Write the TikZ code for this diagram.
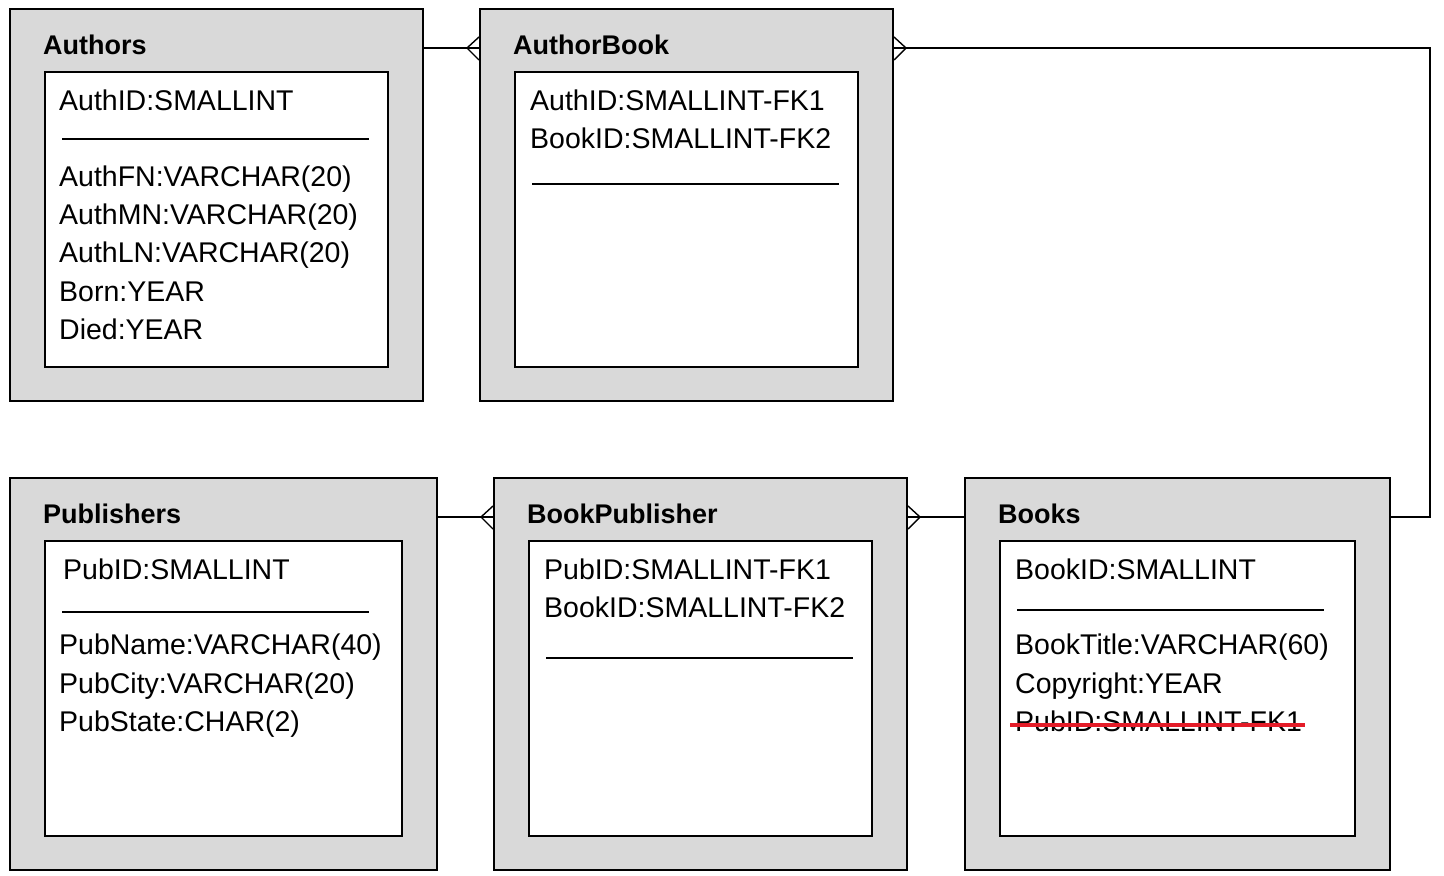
\documentclass[tikz,border=0pt]{standalone}
\usepackage{fontspec}
\setmainfont{Liberation Sans}
\definecolor{boxgray}{RGB}{217,217,217}
\definecolor{strike}{RGB}{228,28,40}
\begin{document}
\begin{tikzpicture}[x=1pt,y=-1pt,
  outerbox/.style={draw=black,line width=2pt,fill=boxgray,anchor=north west,inner sep=0pt},
  innerbox/.style={draw=black,line width=2pt,fill=white,anchor=north west,inner sep=0pt},
  ttl/.style={anchor=base west,inner sep=0pt,font=\fontsize{27}{30}\selectfont\bfseries},
  fld/.style={anchor=base west,inner sep=0pt,font=\fontsize{28.5}{34}\selectfont},
  sepline/.style={line width=1.4pt},
  conn/.style={line width=1.4pt},
  crow/.style={line width=1.4pt}]
\useasboundingbox (0,0) rectangle (1444,876);

% ---------- Authors ----------
\node[outerbox,minimum width=413pt,minimum height=392pt] (authors) at (9,8) {};
\node[innerbox,minimum width=343pt,minimum height=295pt] (authorsin) at (44,71) {};
\node[ttl] (t1) at (43,54) {Authors};
\node[fld] (a1) at (59,110) {AuthID:SMALLINT};
\draw[sepline] (62,139) -- (369,139);
\node[fld] (a2) at (59,186) {AuthFN:VARCHAR(20)};
\node[fld] (a3) at (59,224) {AuthMN:VARCHAR(20)};
\node[fld] (a4) at (59,262) {AuthLN:VARCHAR(20)};
\node[fld] (a5) at (59,301) {Born:YEAR};
\node[fld] (a6) at (59,339) {Died:YEAR};

% ---------- AuthorBook ----------
\node[outerbox,minimum width=413pt,minimum height=392pt] (authorbook) at (479,8) {};
\node[innerbox,minimum width=343pt,minimum height=295pt] (authorbookin) at (514,71) {};
\node[ttl] (t2) at (513,54) {AuthorBook};
\node[fld] (b1) at (530,110) {AuthID:SMALLINT-FK1};
\node[fld] (b2) at (530,148) {BookID:SMALLINT-FK2};
\draw[sepline] (532,184) -- (839,184);

% ---------- Publishers ----------
\node[outerbox,minimum width=427pt,minimum height=392pt] (publishers) at (9,477) {};
\node[innerbox,minimum width=357pt,minimum height=295pt] (publishersin) at (44,540) {};
\node[ttl] (t3) at (43,523) {Publishers};
\node[fld] (p1) at (63,579) {PubID:SMALLINT};
\draw[sepline] (62,612) -- (369,612);
\node[fld] (p2) at (59,654) {PubName:VARCHAR(40)};
\node[fld] (p3) at (59,693) {PubCity:VARCHAR(20)};
\node[fld] (p4) at (59,731) {PubState:CHAR(2)};

% ---------- BookPublisher ----------
\node[outerbox,minimum width=413pt,minimum height=392pt] (bookpub) at (493,477) {};
\node[innerbox,minimum width=343pt,minimum height=295pt] (bookpubin) at (528,540) {};
\node[ttl] (t4) at (527,523) {BookPublisher};
\node[fld] (q1) at (544,579) {PubID:SMALLINT-FK1};
\node[fld] (q2) at (544,617) {BookID:SMALLINT-FK2};
\draw[sepline] (546,658) -- (853,658);

% ---------- Books ----------
\node[outerbox,minimum width=425pt,minimum height=392pt] (books) at (964,477) {};
\node[innerbox,minimum width=355pt,minimum height=295pt] (booksin) at (999,540) {};
\node[ttl] (t5) at (998,523) {Books};
\node[fld] (k1) at (1015,579) {BookID:SMALLINT};
\draw[sepline] (1017,610) -- (1324,610);
\node[fld] (k2) at (1015,654) {BookTitle:VARCHAR(60)};
\node[fld] (k3) at (1015,693) {Copyright:YEAR};
\node[fld] (k4) at (1015,731) {PubID:SMALLINT-FK1};
\draw[strike,line width=4pt] (k4.base west) ++(-5,-6) -- ++(295,0);

% ---------- connectors ----------
% Authors -- AuthorBook (many at AuthorBook)
\draw[conn] ([yshift=-40pt]authors.north east) -- ([yshift=-40pt]authorbook.north west);
\draw[crow] ([yshift=-29pt]authorbook.north west) -- ([xshift=-12pt,yshift=-40pt]authorbook.north west)
            -- ([yshift=-52pt]authorbook.north west);
% AuthorBook -- Books (many at AuthorBook)
\coordinate (corner1) at (1430,48);
\coordinate (corner2) at (1430,517);
\draw[conn] ([yshift=-40pt]authorbook.north east) -- (corner1) -- (corner2) -- ([yshift=-40pt]books.north east);
\draw[crow] ([yshift=-29pt]authorbook.north east) -- ([xshift=12pt,yshift=-40pt]authorbook.north east)
            -- ([yshift=-52pt]authorbook.north east);
% Publishers -- BookPublisher (many at BookPublisher)
\draw[conn] ([yshift=-40pt]publishers.north east) -- ([yshift=-40pt]bookpub.north west);
\draw[crow] ([yshift=-29pt]bookpub.north west) -- ([xshift=-12pt,yshift=-40pt]bookpub.north west)
            -- ([yshift=-52pt]bookpub.north west);
% BookPublisher -- Books (many at BookPublisher)
\draw[conn] ([yshift=-40pt]bookpub.north east) -- ([yshift=-40pt]books.north west);
\draw[crow] ([yshift=-29pt]bookpub.north east) -- ([xshift=12pt,yshift=-40pt]bookpub.north east)
            -- ([yshift=-52pt]bookpub.north east);
\end{tikzpicture}
\end{document}
